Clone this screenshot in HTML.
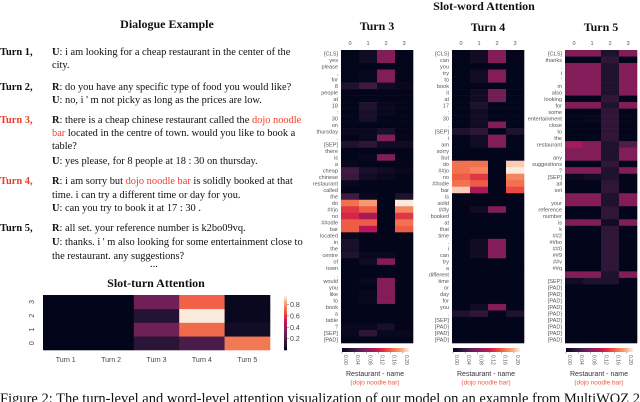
<!DOCTYPE html>
<html><head><meta charset="utf-8">
<style>
html,body{margin:0;padding:0;background:#fff}
#root{position:relative;width:640px;height:402px;overflow:hidden;font-family:"Liberation Serif",serif;color:#111}
.t{position:absolute;white-space:nowrap;font-size:10.4px;line-height:12px}
.lab{position:absolute;font-weight:bold;font-size:10.4px;white-space:nowrap}
.red{color:#f03c28}
.ttl{position:absolute;font-weight:bold;font-size:12px;white-space:nowrap;transform:translateX(-50%)}
svg{position:absolute;left:0;top:0}
</style></head><body>
<div id="root">
<div class="ttl" style="left:167px;top:17px">Dialogue Example</div>
<div class="ttl" style="left:484px;top:-1px">Slot-word Attention</div>
<div class="ttl" style="left:377px;top:19px">Turn 3</div>
<div class="ttl" style="left:488px;top:20px">Turn 4</div>
<div class="ttl" style="left:601px;top:20px">Turn 5</div>
<div class="ttl" style="left:156px;top:276px">Slot-turn Attention</div>

<div class="lab" style="left:0;top:47px">Turn 1,</div>
<div class="t" style="left:52px;top:47px"><b>U</b>: i am looking for a cheap restaurant in the center of the</div>
<div class="t" style="left:52px;top:60px">city.</div>
<div class="lab" style="left:0;top:82px">Turn 2,</div>
<div class="t" style="left:52px;top:82px"><b>R</b>: do you have any specific type of food you would like?</div>
<div class="t" style="left:52px;top:95px"><b>U</b>: no, i ' m not picky as long as the prices are low.</div>
<div class="lab red" style="left:0;top:115px">Turn 3,</div>
<div class="t" style="left:52px;top:115px"><b>R</b>: there is a cheap chinese restaurant called the <span class="red">dojo noodle</span></div>
<div class="t" style="left:52px;top:128px"><span class="red">bar</span> located in the centre of town. would you like to book a</div>
<div class="t" style="left:52px;top:141px">table?</div>
<div class="t" style="left:52px;top:156px"><b>U</b>: yes please, for 8 people at 18 : 30 on thursday.</div>
<div class="lab red" style="left:0;top:176px">Turn 4,</div>
<div class="t" style="left:52px;top:176px"><b>R</b>: i am sorry but <span class="red">dojo noodle bar</span> is solidly booked at that</div>
<div class="t" style="left:52px;top:190px">time. i can try a different time or day for you.</div>
<div class="t" style="left:52px;top:203px"><b>U</b>: can you try to book it at 17 : 30 .</div>
<div class="lab" style="left:0;top:223px">Turn 5,</div>
<div class="t" style="left:52px;top:223px"><b>R</b>: all set. your reference number is k2bo09vq.</div>
<div class="t" style="left:52px;top:237px"><b>U</b>: thanks. i ' m also looking for some entertainment close to</div>
<div class="t" style="left:52px;top:251px">the restaurant. any suggestions?</div>
<div class="t" style="left:150px;top:259px">...</div>
<div class="t" style="left:0;top:391px;font-size:14.5px;line-height:16px">Figure 2: The turn-level and word-level attention visualization of our model on an example from MultiWOZ 2.1</div>
<svg id="chart" width="640" height="402"></svg>
</div>
<script>
const turnCategories=["Turn 1","Turn 2","Turn 3","Turn 4","Turn 5"];
const slotRows=["0","1","2","3"];
// turnValues[turn][slot]
const turnValues=[[0,0,0,0],[0,0,0,0],[0.12,0.3,0.1,0.3],[0.2,0.72,0.95,0.7],[0.75,0.05,0.02,0.02]];
const turnTicks=[0.2,0.4,0.6,0.8];
const wordTicks=["0.00","0.04","0.08","0.12","0.16","0.20"];
const t3Tokens=["[CLS]","yes","please",",","for","8","people","at","18",":","30","on","thursday",".","[SEP]","there","is","a","cheap","chinese","restaurant","called","the","do","##jo","no","##odle","bar","located","in","the","centre","of","town",".","would","you","like","to","book","a","table","?","[SEP]","[PAD]"];
const t3Values=[[0,0.01,0.08,0],[0,0.01,0.08,0],[0,0,0,0],[0,0.005,0.08,0],[0,0.005,0.08,0],[0.02,0.04,0.01,0.005],[0,0,0,0],[0,0,0,0],[0,0.02,0.005,0],[0,0.015,0.005,0],[0,0.015,0,0],[0,0,0,0],[0.005,0.005,0.015,0],[0,0.005,0.08,0],[0.02,0.03,0.01,0.01],[0,0,0,0],[0,0.005,0.08,0],[0.005,0,0,0],[0.04,0.015,0.01,0.005],[0.035,0.01,0.005,0],[0.005,0,0,0],[0,0,0,0],[0.04,0.005,0,0.02],[0.17,0.19,0,0.22],[0.14,0.16,0,0.18],[0.13,0.1,0,0.14],[0.16,0.16,0,0.17],[0.16,0.11,0,0.16],[0.005,0,0,0],[0.015,0,0,0],[0.015,0,0,0],[0.02,0.005,0.005,0],[0,0.01,0.08,0],[0,0,0,0],[0,0,0,0],[0,0.005,0.08,0],[0,0,0.08,0],[0,0.005,0.08,0],[0,0.005,0.08,0],[0,0,0,0],[0,0,0,0],[0,0,0,0],[0.005,0.005,0.015,0],[0.005,0.03,0.005,0.005],[0,0,0,0]];
const t4Tokens=["[CLS]","can","you","try","to","book","it","at","17",":","30",".","[SEP]","i","am","sorry","but","do","##jo","no","##odle","bar","is","solid","##ly","booked","at","that","time",".","i","can","try","a","different","time","or","day","for","you",".","[SEP]","[PAD]","[PAD]","[PAD]"];
const t4Values=[[0,0.01,0.08,0],[0,0.01,0.08,0],[0,0,0,0],[0,0.01,0.08,0],[0,0.01,0.08,0],[0,0,0,0],[0,0.01,0.07,0],[0,0.01,0.07,0],[0,0.02,0,0],[0,0.01,0,0],[0,0.01,0,0],[0,0.01,0.08,0],[0.02,0.03,0,0.02],[0,0.01,0.08,0],[0,0.01,0.08,0],[0,0,0,0],[0,0,0,0],[0.17,0.17,0,0.21],[0.17,0.18,0,0.22],[0.16,0.14,0,0.18],[0.17,0.16,0,0.17],[0.21,0.1,0,0.15],[0,0,0,0],[0,0,0,0],[0,0.01,0.08,0],[0,0,0,0],[0,0,0,0],[0,0,0,0],[0,0,0,0],[0,0.01,0.08,0],[0,0.01,0.08,0],[0,0.01,0.08,0],[0,0,0,0],[0,0,0,0],[0,0,0,0],[0,0,0,0],[0,0,0,0],[0,0,0,0],[0,0,0,0],[0,0.01,0.08,0],[0.02,0.03,0,0.02],[0,0,0,0],[0,0,0,0],[0,0,0,0],[0,0,0,0]];
const t5Tokens=["[CLS]","thanks",".","i","'","m","also","looking","for","some","entertainment","close","to","the","restaurant",".","any","suggestions","?","[SEP]","all","set",".","your","reference","number","is","k","##2","##bo","##0","##9","##v","##q",".","[SEP]","[PAD]","[PAD]","[PAD]","[PAD]","[PAD]","[PAD]","[PAD]","[PAD]","[PAD]"];
const t5Values=[[0.08,0.08,0.02,0.08],[0,0,0.03,0],[0.08,0.08,0.02,0.08],[0.08,0.08,0.02,0.08],[0.08,0.08,0.02,0.08],[0.08,0.08,0.02,0.08],[0.08,0.08,0.02,0.08],[0,0,0.03,0],[0.08,0.08,0.02,0.08],[0,0,0.03,0],[0,0.005,0.03,0],[0,0,0.03,0],[0,0,0.03,0],[0,0,0.03,0],[0.1,0.08,0.02,0.05],[0.08,0.08,0.02,0.08],[0.08,0.08,0.02,0.08],[0,0,0.03,0],[0.08,0.08,0.02,0.08],[0.005,0.01,0.02,0],[0,0,0.03,0],[0,0,0.03,0],[0.08,0.08,0.02,0.08],[0.08,0.08,0.02,0.08],[0,0,0.03,0],[0,0,0.03,0],[0.08,0.08,0.01,0.08],[0,0,0.03,0],[0,0,0.03,0],[0,0,0.03,0],[0,0,0.03,0],[0,0,0.03,0],[0,0,0.03,0],[0,0,0.03,0],[0.08,0.08,0.02,0.08],[0.01,0.02,0.02,0],[0,0,0,0],[0,0,0,0],[0,0,0,0],[0,0,0,0],[0,0,0,0],[0,0,0,0],[0,0,0,0],[0,0,0,0],[0,0,0,0]];

const stops=[[0,[3,5,26]],[0.1,[34,19,49]],[0.2,[69,28,71]],[0.3,[106,31,86]],[0.4,[146,28,91]],[0.5,[185,22,87]],[0.6,[217,40,71]],[0.7,[237,80,62]],[0.8,[244,125,87]],[0.9,[246,170,130]],[1,[250,235,221]]];
function rocket(t){t=Math.max(0,Math.min(1,t));for(let i=1;i<stops.length;i++){if(t<=stops[i][0]){const a=stops[i-1],b=stops[i],f=(t-a[0])/(b[0]-a[0]);const c=a[1].map((v,k)=>Math.round(v+(b[1][k]-v)*f));return `rgb(${c.join(',')})`;}}return 'rgb(250,235,221)';}
const NS='http://www.w3.org/2000/svg',svg=document.getElementById('chart');
function el(tag,attrs,parent){const e=document.createElementNS(NS,tag);for(const k in attrs)e.setAttribute(k,attrs[k]);(parent||svg).appendChild(e);return e;}
const sans='Liberation Sans, sans-serif';

const wordVmax=0.22;
function wordMap(tokens,values,x0,name){
  const g=el('g',{});
  
  
  const top=50,bottom=343,w=72,ch=(bottom-top)/tokens.length,cw=w/4;
  const xs=c=>x0+c*cw, ys=r=>top+r*ch;
  values.forEach((row,r)=>row.forEach((v,c)=>{
    const rc=el('rect',{x:xs(c),y:ys(r),width:cw+0.3,height:ch+0.3,fill:rocket(v/wordVmax)},g);
    
    
  }));
  tokens.forEach((t,r)=>{const tx=el('text',{x:x0-3,y:ys(r)+ch/2+2,'font-size':5.6,'text-anchor':'end',fill:'#555','font-family':sans},g);tx.textContent=t;
    
    });
  slotRows.forEach((s,c)=>{const tx=el('text',{x:xs(c)+cw/2,y:45,'font-size':5.6,'text-anchor':'middle',fill:'#555','font-family':sans},g);tx.textContent=s;
    
    });
  const cbw=67,cbx=x0+1,cby=348;
  for(let i=0;i<60;i++){el('rect',{x:cbx+i*cbw/60,y:cby,width:cbw/60+0.3,height:4,fill:rocket(i/59)},g);}
  const cx=v=>cbx+v/wordVmax*cbw;
  wordTicks.forEach(t=>{const x=cx(parseFloat(t));el('line',{x1:x,x2:x,y1:cby+4,y2:cby+5.5,stroke:'#555','stroke-width':0.5},g);
    const tx=el('text',{transform:`translate(${x+2},${cby+7}) rotate(90)`,'font-size':5,fill:'#555','font-family':sans},g);tx.textContent=t;
    
    });
  const l1=el('text',{x:x0+34,y:376,'font-size':7,'text-anchor':'middle',fill:'#333','font-family':sans},g);l1.textContent='Restaurant - name';
  
  
  const l2=el('text',{x:x0+34,y:384.5,'font-size':6.5,'text-anchor':'middle',fill:'#f05a3c','font-family':sans},g);l2.textContent='(dojo noodle bar)';
  
  
}
wordMap(t3Tokens,t3Values,341,'turn3-heatmap');
wordMap(t4Tokens,t4Values,452,'turn4-heatmap');
wordMap(t5Tokens,t5Values,565,'turn5-heatmap');

(function(){
  const g=el('g',{});
  
  
  const x0=43,x1=270,y0=295,y1=350,cw=(x1-x0)/turnCategories.length,ch=(y1-y0)/slotRows.length;
  const xs=i=>x0+i*cw, ys=s=>y1-(s+1)*ch, vmax=0.95;
  turnValues.forEach((col,i)=>col.forEach((v,s)=>{const r=el('rect',{x:xs(i),y:ys(s),width:cw+0.3,height:ch+0.3,fill:rocket(v/vmax)},g);
    
    }));
  turnCategories.forEach((t,i)=>{const tx=el('text',{x:xs(i)+cw/2,y:362,'font-size':7,'text-anchor':'middle',fill:'#444','font-family':sans},g);tx.textContent=t;
    
    });
  slotRows.forEach((s,k)=>{const y=ys(k)+ch/2;const tx=el('text',{transform:`translate(34,${y}) rotate(-90)`,'font-size':7,'text-anchor':'middle',fill:'#444','font-family':sans},g);tx.textContent=s;
    
    });
  const cbx=284,cby0=296,cby1=350;
  for(let i=0;i<50;i++){el('rect',{x:cbx,y:cby1-(i+1)*(cby1-cby0)/50,width:3,height:(cby1-cby0)/50+0.3,fill:rocket(i/49)},g);}
  turnTicks.forEach(t=>{const y=cby1-t/vmax*(cby1-cby0);el('line',{x1:cbx+3,x2:cbx+5,y1:y,y2:y,stroke:'#555','stroke-width':0.5},g);
    const tx=el('text',{x:cbx+6,y:y+2.5,'font-size':7,fill:'#444','font-family':sans},g);tx.textContent=t.toFixed(1);
    
    });
})();
</script>
</body></html>
